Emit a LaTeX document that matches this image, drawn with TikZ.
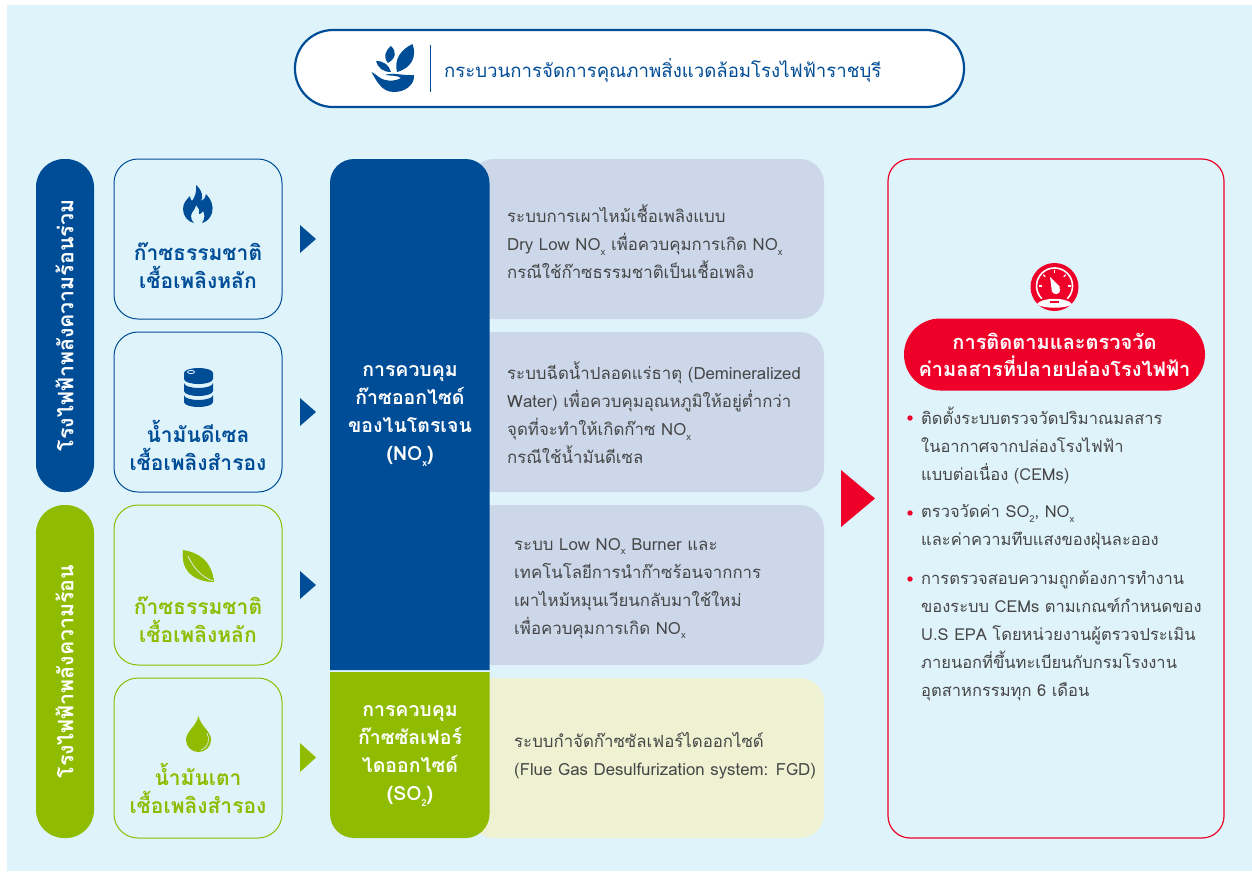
\documentclass[tikz,border=0pt]{standalone}
\usepackage{fontspec}
\setmainfont[Script=Thai]{Loma}
\definecolor{bgblue}{HTML}{DFF3FB}
\definecolor{navy}{HTML}{004D97}
\definecolor{leaf}{HTML}{8FBC00}
\definecolor{redc}{HTML}{EE0028}
\definecolor{panelb}{HTML}{CCD7EA}
\definecolor{panelg}{HTML}{EEF1D2}
\definecolor{body}{HTML}{464646}
\newcommand{\sbx}{\raisebox{-0.28em}{\fontsize{9.5}{9.5}\selectfont x}}
\newcommand{\sbt}{\raisebox{-0.28em}{\fontsize{9.5}{9.5}\selectfont 2}}
\tikzset{
  fuelbox/.style={draw=#1,rounded corners=24pt,line width=1pt,minimum width=168pt,minimum height=160pt,inner sep=0pt},
  sidepill/.style={fill=#1,rounded corners=28pt,minimum width=58pt,inner sep=0pt},
  panelbox/.style={fill=#1,rounded corners=24pt,minimum width=354pt,minimum height=160pt,inner sep=0pt},
  fueltext/.style={align=center,font=\fontsize{21}{28}\selectfont\bfseries,text=#1,inner sep=0pt},
  headtext/.style={align=center,font=\fontsize{19.5}{28}\selectfont\bfseries,text=white,inner sep=0pt},
  pilltext/.style={align=center,font=\fontsize{20}{27}\selectfont\bfseries,text=white,inner sep=0pt},
  bodytext/.style={align=left,anchor=west,font=\fontsize{16.8}{28}\selectfont,text=body,inner sep=0pt},
  montext/.style={align=left,anchor=west,font=\fontsize{16.5}{28}\selectfont,text=body,inner sep=0pt},
  sidetext/.style={rotate=90,font=\fontsize{21.3}{24}\selectfont\bfseries,text=white,inner sep=0pt},
}
\begin{document}
\begin{tikzpicture}[x=1pt,y=-1pt]
\useasboundingbox (0,0) rectangle (1252,871);
\fill[bgblue] (7,5) rectangle (1252,871);
% title
\node[draw=navy,line width=2.2pt,fill=white,rounded corners=38pt,minimum width=669pt,minimum height=77pt,inner sep=0pt] (title) at (629.5,68.5) {};
\node[anchor=west,font=\fontsize{18.6}{24}\selectfont,text=navy,inner sep=0pt] (titletext) at (444,70) {กระบวนการจัดการคุณภาพสิ่งแวดล้อมโรงไฟฟ้าราชบุรี};
\draw[navy,line width=1.8pt] (430.5,45) -- (430.5,92);
% hand and leaves icon
\fill[navy] (397,72) .. controls (394,60) and (400,50) .. (412.5,44) .. controls (417,56) and (412,68) .. (397,72) -- cycle;
\fill[navy] (388,63) .. controls (383,57) and (385,51) .. (391,46) .. controls (397,52) and (396,58) .. (388,63) -- cycle;
\fill[navy] (376,61) .. controls (384,61) and (389,65) .. (391,72) .. controls (383,72) and (378,68) .. (376,61) -- cycle;
\fill[navy] (371.5,72) .. controls (376,74) and (380,79) .. (385,80) .. controls (390,81) and (396,81) .. (401,78) .. controls (397,75) and (391,76) .. (385,75) .. controls (393,72) and (403,76) .. (414,75) .. controls (415,84) and (406,92) .. (394,92) .. controls (382,92) and (377,82) .. (371.5,72) -- cycle;
% side pills
\node[sidepill=navy,minimum height=333pt] (pillA) at (65,325.5) {};
\node[sidetext] (pillAt) at (64.5,325.5) {โรงไฟฟ้าพลังความร้อนร่วม};
\node[sidepill=leaf,minimum height=333pt] (pillB) at (65,671.5) {};
\node[sidetext] (pillBt) at (64.5,671.5) {โรงไฟฟ้าพลังความร้อน};
% fuel boxes
\node[fuelbox=navy] (fa) at (198,239) {};
\node[fuelbox=navy] (fb) at (198,412) {};
\node[fuelbox=leaf] (fc) at (198,585) {};
\node[fuelbox=leaf] (fd) at (198,758) {};
\node[fueltext=navy] (fat) at (198,265.5) {ก๊าซธรรมชาติ\\เชื้อเพลิงหลัก};
\node[fueltext=navy] (fbt) at (198,445.5) {น้ำมันดีเซล\\เชื้อเพลิงสำรอง};
\node[fueltext=leaf] (fct) at (198,620) {ก๊าซธรรมชาติ\\เชื้อเพลิงหลัก};
\node[fueltext=leaf] (fdt) at (198,788) {น้ำมันเตา\\เชื้อเพลิงสำรอง};
% flame
\fill[navy] (196,185) .. controls (203,191) and (203,197) .. (201,201) .. controls (204,200) and (206,197) .. (206,194) .. controls (211,199) and (214,206) .. (212,213) .. controls (210,219) and (206,222) .. (202,223) .. controls (205,219) and (205,214) .. (203,211) .. controls (202,213) and (201,214) .. (199,214) .. controls (200,210) and (198,207) .. (196,205) .. controls (196,209) and (191,212) .. (191,216) .. controls (191,219) and (192,221) .. (194,223) .. controls (188,222) and (183,216) .. (183,209) .. controls (183,203) and (187,199) .. (190,196) .. controls (190,198) and (191,200) .. (192,201) .. controls (195,197) and (197,191) .. (196,185) -- cycle;
% barrel
\fill[navy] (184,373) arc[start angle=180,end angle=360,x radius=14.5,y radius=5] -- (213,379) arc[start angle=0,end angle=180,x radius=14.5,y radius=5] -- cycle;
\fill[navy] (184,383) arc[start angle=180,end angle=0,x radius=14.5,y radius=5] -- (213,391) arc[start angle=0,end angle=180,x radius=14.5,y radius=5] -- cycle;
\fill[navy] (184,395) arc[start angle=180,end angle=0,x radius=14.5,y radius=5] -- (213,402) arc[start angle=0,end angle=180,x radius=14.5,y radius=5] -- cycle;
\draw[bgblue,line width=0.8pt] (191,372) ellipse[x radius=3.5,y radius=1.6];
% leaf
\fill[leaf] (183,550) .. controls (197,552) and (212,560) .. (214,582) .. controls (198,582) and (180,574) .. (183,550) -- cycle;
\draw[bgblue,line width=0.7pt] (188,556) .. controls (194,569) and (202,577) .. (213,581);
% drop
\fill[leaf] (198.5,716) .. controls (201,727) and (211,731) .. (211,740) .. controls (211,747) and (205,752) .. (198.5,752) .. controls (192,752) and (186,747) .. (186,740) .. controls (186,731) and (196,727) .. (198.5,716) -- cycle;
\draw[bgblue,line width=0.6pt] (207,733) .. controls (210,739) and (209,747) .. (201,750);
% small triangles
\fill[navy] (300,225) -- (316,239) -- (300,253) -- cycle;
\fill[navy] (300,398) -- (316,412) -- (300,426) -- cycle;
\fill[navy] (300,571) -- (316,585) -- (300,599) -- cycle;
\fill[leaf] (300,743) -- (316,757.5) -- (300,772) -- cycle;
% panels
\node[panelbox=panelb] (pa) at (647,239) {};
\node[panelbox=panelb] (pb) at (647,412) {};
\node[panelbox=panelb] (pc) at (647,585) {};
\node[panelbox=panelg] (pd) at (647,758) {};
% central columns
\fill[navy] (330,670) [rounded corners=24pt] -- (330,159) -- (489.5,159) [sharp corners] -- (489.5,670) -- cycle;
\fill[leaf] (330,672) [rounded corners=24pt] -- (330,838) -- (489.5,838) [sharp corners] -- (489.5,672) -- cycle;
\node[headtext] (noxh) at (410,416) {การควบคุม\\ก๊าซออกไซด์\\ของไนโตรเจน\\(NO\sbx)};
\node[headtext] (soxh) at (410,756) {การควบคุม\\ก๊าซซัลเฟอร์\\ไดออกไซด์\\(SO\sbt)};
% panel texts
\node[bodytext] (pat) at (507,242) {ระบบการเผาไหม้เชื้อเพลิงแบบ\\Dry Low NO\sbx{} เพื่อควบคุมการเกิด NO\sbx\\กรณีใช้ก๊าซธรรมชาติเป็นเชื้อเพลิง};
\node[bodytext] (pbt) at (507,413) {ระบบฉีดน้ำปลอดแร่ธาตุ (Demineralized\\Water) เพื่อควบคุมอุณหภูมิให้อยู่ต่ำกว่า\\จุดที่จะทำให้เกิดก๊าซ NO\sbx\\กรณีใช้น้ำมันดีเซล};
\node[bodytext] (pct) at (514,588.5) {ระบบ Low NO\sbx{} Burner และ\\เทคโนโลยีการนำก๊าซร้อนจากการ\\เผาไหม้หมุนเวียนกลับมาใช้ใหม่\\เพื่อควบคุมการเกิด NO\sbx};
\node[bodytext] (pdt) at (514,756) {ระบบกำจัดก๊าซซัลเฟอร์ไดออกไซด์\\(Flue Gas Desulfurization system: FGD)};
% big arrow
\fill[redc] (841,470) -- (875,498.5) -- (841,527) -- cycle;
% monitoring box
\node[draw=redc,line width=1.2pt,rounded corners=22pt,minimum width=336pt,minimum height=679pt,inner sep=0pt] (mon) at (1056,498.5) {};
% gauge icon
\fill[redc] (1054.5,287) circle[radius=24];
\draw[white,line width=1.6pt] (1041.8,298.7) arc[start angle=135,end angle=405,radius=18];
\foreach \a in {180,225,270,315,360}
  \draw[white,line width=1.2pt] (1054.5,286) ++(\a:13) -- ++(\a:3);
\fill[white] (1050,277) -- (1060,287) -- (1052,292) -- cycle;
\fill[white] (1056,290) circle[radius=4.2];
\fill[white] (1037,304) .. controls (1042,297) and (1067,297) .. (1072,304) .. controls (1067,309) and (1042,309) .. (1037,304) -- cycle;
\fill[redc] (1050,301) rectangle (1059,302.5);
% red pill
\node[fill=redc,rounded corners=36pt,minimum width=301pt,minimum height=72pt,inner sep=0pt] (monh) at (1054.5,354.5) {};
\node[pilltext] (monht) at (monh) {การติดตามและตรวจวัด\\ค่ามลสารที่ปลายปล่องโรงไฟฟ้า};
% bullets
\fill[redc] (910,418) circle[radius=2.7];
\fill[redc] (910,513) circle[radius=2.7];
\fill[redc] (910,579) circle[radius=2.7];
\node[montext] (mta) at (921,445.5) {ติดตั้งระบบตรวจวัดปริมาณมลสาร\\ในอากาศจากปล่องโรงไฟฟ้า\\แบบต่อเนื่อง (CEMs)};
\node[montext] (mtb) at (921,527.5) {ตรวจวัดค่า SO\sbt, NO\sbx\\และค่าความทึบแสงของฝุ่นละออง};
\node[montext] (mtc) at (921,635.5) {การตรวจสอบความถูกต้องการทำงาน\\ของระบบ CEMs ตามเกณฑ์กำหนดของ\\U.S EPA โดยหน่วยงานผู้ตรวจประเมิน\\ภายนอกที่ขึ้นทะเบียนกับกรมโรงงาน\\อุตสาหกรรมทุก 6 เดือน};
\end{tikzpicture}
\end{document}
